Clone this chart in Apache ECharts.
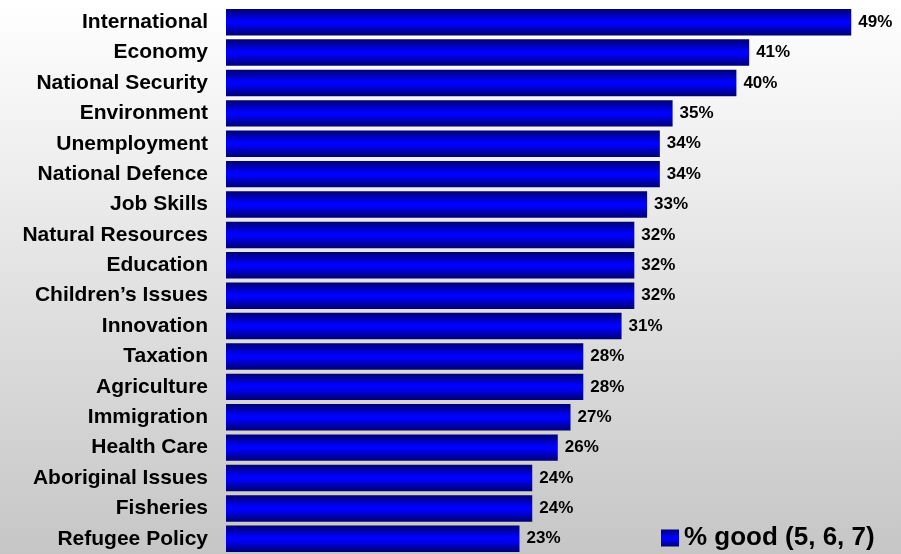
<!DOCTYPE html>
<html>
<head>
<meta charset="utf-8">
<script src="https://cdn.jsdelivr.net/npm/echarts@6/dist/echarts.min.js"></script>
<style>
html,body{margin:0;padding:0;}
#chart{width:901px;height:554px;}
</style>
</head>
<body>
<div id="chart"></div>
<script>
const categories = ["International","Economy","National Security","Environment","Unemployment","National Defence","Job Skills","Natural Resources","Education","Children\u2019s Issues","Innovation","Taxation","Agriculture","Immigration","Health Care","Aboriginal Issues","Fisheries","Refugee Policy"];
const values = [49,41,40,35,34,34,33,32,32,32,31,28,28,27,26,24,24,23];
const seriesName = "% good (5, 6, 7)";

const chart = echarts.init(document.getElementById('chart'), null, {renderer:'canvas'});
const barGrad = new echarts.graphic.LinearGradient(0,0,0,1,[
  {offset:0,color:'#000070'},
  {offset:0.45,color:'#0000ff'},
  {offset:0.55,color:'#0000ff'},
  {offset:1,color:'#000070'}
]);
chart.setOption({
  backgroundColor: new echarts.graphic.LinearGradient(0,0,0,1,[
    {offset:0,color:'#ffffff'},
    {offset:1,color:'#c6c6c6'}
  ]),
  animation:false,
  grid:{left:226,top:7,right:37,bottom:-4,containLabel:false},
  xAxis:{type:'value',min:0,max:50,show:false},
  yAxis:{type:'category',data:categories,inverse:true,
    axisLine:{show:false},axisTick:{show:false},splitLine:{show:false},
    axisLabel:{margin:18,color:'#000',fontSize:21,fontWeight:'bold',fontFamily:'Liberation Sans, Arial, sans-serif'}},
  legend:{show:true,left:656,top:520,icon:'rect',itemWidth:18,itemHeight:17,itemGap:10,
    textStyle:{color:'#000',fontSize:26,fontWeight:'bold',fontFamily:'Liberation Sans, Arial, sans-serif',padding:[0,0,0,0]},
    data:[seriesName]},
  series:[{
    name:seriesName,type:'bar',data:values,barCategoryGap:'13%',
    itemStyle:{color:barGrad},
    label:{show:true,position:'right',distance:7,formatter:'{c}%',color:'#000',fontSize:17,fontWeight:'bold',fontFamily:'Liberation Sans, Arial, sans-serif'}
  }]
});
</script>
</body>
</html>
